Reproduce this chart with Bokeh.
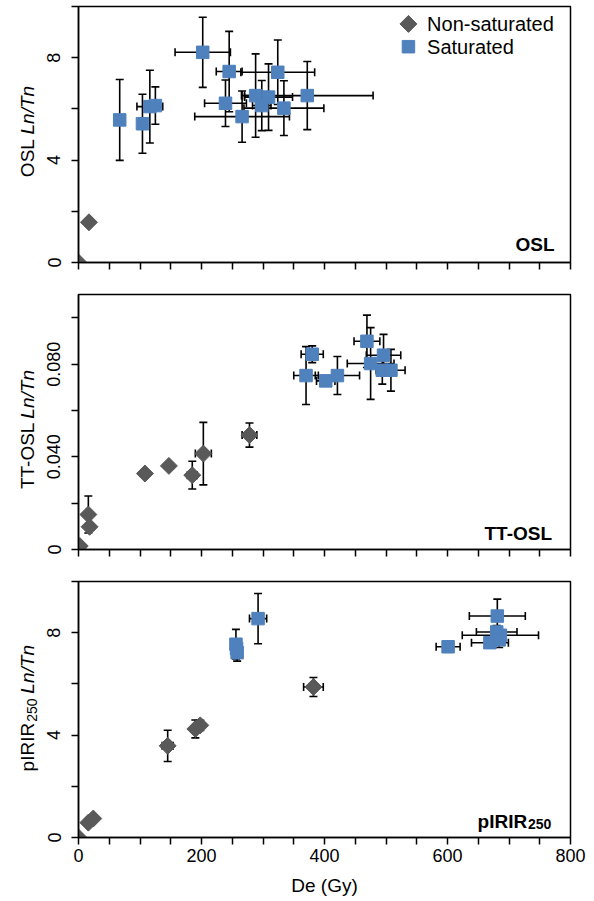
import math
from bokeh.plotting import figure
from bokeh.layouts import column, row
from bokeh.models import ColumnDataSource, Range1d, FixedTicker, Whisker, TeeHead, Label
from bokeh.embed import file_html
from bokeh.resources import INLINE

FONT = "Liberation Sans"
GRAY = "#595959"
BLUE = "#4F81BD"

# ---------------- data ----------------
# OSL panel
osl_ns_de = [0, 17]
osl_ns_ratio = [0.0, 1.57]
osl_ns_de_err = [0, 0]
osl_ns_ratio_err = [0, 0.12]

osl_s_de = [67, 104, 116, 125, 202, 245, 324, 372, 239, 266, 288, 298, 309, 334]
osl_s_ratio = [5.57, 5.42, 6.09, 6.13, 8.21, 7.46, 7.43, 6.52, 6.22, 5.70, 6.52, 6.13, 6.46, 6.03]
osl_s_de_err = [0, 0, 21, 0, 45, 21, 60, 107, 34, 77, 18, 15, 39, 65]
osl_s_ratio_err = [1.58, 1.15, 1.42, 0.73, 1.37, 1.57, 1.26, 1.33, 0.91, 1.0, 1.63, 0.98, 1.30, 1.07]

# TT-OSL panel
tt_ns_de = [2, 16, 18, 108, 147, 185, 203, 278]
tt_ns_ratio = [0.0015, 0.0151, 0.0098, 0.0328, 0.0361, 0.0321, 0.0414, 0.0494]
tt_ns_de_err = [0, 0, 0, 4, 6, 8, 13, 12]
tt_ns_ratio_err = [0, 0.008, 0.0015, 0.001, 0.0012, 0.006, 0.0135, 0.0052]

tt_s_de = [380, 370, 402, 421, 469, 475, 496, 494, 508]
tt_s_ratio = [0.0843, 0.0751, 0.0728, 0.0751, 0.0899, 0.0803, 0.0839, 0.0774, 0.0774]
tt_s_de_err = [18, 20, 15, 36, 21, 38, 28, 10, 23]
tt_s_ratio_err = [0.0036, 0.0125, 0.002, 0.0082, 0.0113, 0.0155, 0.009, 0.006, 0.009]

# pIRIR250 panel
ir_ns_de = [0, 16, 24, 145, 190, 198, 382]
ir_ns_ratio = [0.0, 0.58, 0.74, 3.58, 4.24, 4.38, 5.88]
ir_ns_de_err = [0, 0, 0, 9, 6, 6, 16]
ir_ns_ratio_err = [0, 0, 0, 0.61, 0.35, 0.2, 0.37]

ir_s_de = [256, 257, 258, 292, 601, 681, 680, 686, 669, 684]
ir_s_ratio = [7.55, 7.38, 7.22, 8.55, 7.45, 8.65, 8.03, 7.90, 7.61, 7.72]
ir_s_de_err = [0, 0, 0, 14, 19.5, 45.5, 33, 62, 30, 0]
ir_s_ratio_err = [0.58, 0, 0.33, 0.98, 0.1, 0.66, 0.25, 0.2, 0.15, 0.3]

x_ticks = list(range(0, 801, 50))
x_tick_labels = {0: "0", 200: "200", 400: "400", 600: "600", 800: "800"}

ratio_ticks = [0, 2, 4, 6, 8, 10]
ratio_tick_labels = {0: "0", 4: "4", 8: "8"}
tt_ticks = [0.0, 0.02, 0.04, 0.06, 0.08, 0.1]
tt_tick_labels = {0.0: "0", 0.04: "0.040", 0.08: "0.080"}

LABEL_W = 40  # width of the strip holding the rotated y-axis title


def make_fig(height, ymax, yticks, ylabels, top, bottom, show_x):
    p = figure(width=594 - LABEL_W, height=height, x_range=Range1d(0, 800), y_range=Range1d(0, ymax),
               output_backend="svg", toolbar_location=None,
               min_border_left=78 - LABEL_W, min_border_right=24,
               min_border_top=top, min_border_bottom=bottom)
    p.grid.visible = False
    p.outline_line_color = "black"
    p.outline_line_width = 1.5
    p.background_fill_color = "white"
    p.border_fill_color = "white"

    xa = p.xaxis[0]
    xa.ticker = FixedTicker(ticks=x_ticks, minor_ticks=[])
    xa.major_label_overrides = {t: (x_tick_labels.get(t, "") if show_x else "") for t in x_ticks}
    xa.axis_line_width = 1.5
    xa.major_tick_line_width = 1.5
    xa.major_tick_out = 7
    xa.major_tick_in = 0
    xa.minor_tick_line_color = None
    xa.major_label_text_font = FONT
    xa.major_label_text_color = "black"
    if show_x:
        xa.major_label_text_font_size = "18px"
        xa.major_label_standoff = 4
        xa.axis_label = "De (Gy)"
        xa.axis_label_text_font = FONT
        xa.axis_label_text_font_size = "19px"
        xa.axis_label_text_font_style = "normal"
        xa.axis_label_text_color = "black"
        xa.axis_label_standoff = 10
    else:
        xa.major_label_text_font_size = "1px"
        xa.major_label_standoff = 0

    ya = p.yaxis[0]
    ya.ticker = FixedTicker(ticks=yticks, minor_ticks=[])
    ya.major_label_overrides = {t: ylabels.get(t, "") for t in yticks}
    ya.major_label_orientation = "vertical"
    ya.axis_line_width = 1.5
    ya.major_tick_line_width = 1.5
    ya.major_tick_out = 7
    ya.major_tick_in = 0
    ya.minor_tick_line_color = None
    ya.major_label_text_font = FONT
    ya.major_label_text_font_size = "18px"
    ya.major_label_text_color = "black"
    ya.major_label_standoff = 11
    return p


def make_label_strip(height, ymax, top, bottom):
    s = figure(width=LABEL_W, height=height, x_range=Range1d(0, LABEL_W), y_range=Range1d(0, ymax),
               output_backend="svg", toolbar_location=None, x_axis_type=None, y_axis_type=None,
               min_border_left=0, min_border_right=0, min_border_top=top, min_border_bottom=bottom)
    s.grid.visible = False
    s.outline_line_color = None
    s.background_fill_color = "white"
    s.border_fill_color = "white"
    return s


def add_series(p, de, ratio, de_err, ratio_err, kind):
    yi = [i for i in range(len(de)) if ratio_err[i] > 0]
    if yi:
        src = ColumnDataSource(dict(b=[de[i] for i in yi],
                                    lo=[ratio[i] - ratio_err[i] for i in yi],
                                    hi=[ratio[i] + ratio_err[i] for i in yi]))
        p.add_layout(Whisker(source=src, base="b", lower="lo", upper="hi", dimension="height",
                             line_color="black", line_width=1.6,
                             upper_head=TeeHead(size=8, line_color="black", line_width=1.6),
                             lower_head=TeeHead(size=8, line_color="black", line_width=1.6)))
    xi = [i for i in range(len(de)) if de_err[i] > 0]
    if xi:
        src = ColumnDataSource(dict(b=[ratio[i] for i in xi],
                                    lo=[de[i] - de_err[i] for i in xi],
                                    hi=[de[i] + de_err[i] for i in xi]))
        p.add_layout(Whisker(source=src, base="b", lower="lo", upper="hi", dimension="width",
                             line_color="black", line_width=1.6,
                             upper_head=TeeHead(size=8, line_color="black", line_width=1.6),
                             lower_head=TeeHead(size=8, line_color="black", line_width=1.6)))
    if kind == "ns":
        p.scatter(de, ratio, marker="square", angle=math.pi / 4, size=12,
                  fill_color=GRAY, line_color=GRAY)
    else:
        p.scatter(de, ratio, marker="square", size=12.5, fill_color=BLUE, line_color=BLUE)


def lab(p, x, y, text, size="19px", style="normal", angle=0.0, align="left", baseline="alphabetic"):
    p.add_layout(Label(x=x, y=y, text=text, text_font=FONT, text_font_size=size,
                       text_font_style=style, angle=angle, text_align=align,
                       text_baseline=baseline, text_color="black"))


V = math.pi / 2
YL_X = 27  # centre line of rotated y titles inside the strip (px)

# ---- panel 1: OSL
p1 = make_fig(278, 10, ratio_ticks, ratio_tick_labels, 6, 16, False)
s1 = make_label_strip(278, 10, 6, 16)
add_series(p1, osl_ns_de, osl_ns_ratio, osl_ns_de_err, osl_ns_ratio_err, "ns")
add_series(p1, osl_s_de, osl_s_ratio, osl_s_de_err, osl_s_ratio_err, "s")
lab(s1, YL_X, 4.82, "OSL", angle=V, align="right", baseline="middle")
lab(s1, YL_X, 5.0, "Ln/Tn", style="italic", angle=V, align="left", baseline="middle")
lab(p1, 774, 0.72, "OSL", style="bold", align="right")
# legend
p1.scatter([536.5], [9.32], marker="square", angle=math.pi / 4, size=12, fill_color=GRAY, line_color=GRAY)
p1.scatter([536.5], [8.43], marker="square", size=12.5, fill_color=BLUE, line_color=BLUE)
lab(p1, 566.8, 9.32, "Non-saturated", size="20px", baseline="middle")
lab(p1, 566.8, 8.43, "Saturated", size="20px", baseline="middle")

# ---- panel 2: TT-OSL
p2 = make_fig(287, 0.1101, tt_ticks, tt_tick_labels, 16, 16, False)
s2 = make_label_strip(287, 0.1101, 16, 16)
add_series(p2, tt_ns_de, tt_ns_ratio, tt_ns_de_err, tt_ns_ratio_err, "ns")
add_series(p2, tt_s_de, tt_s_ratio, tt_s_de_err, tt_s_ratio_err, "s")
lab(s2, YL_X, 0.0548, "TT-OSL", angle=V, align="right", baseline="middle")
lab(s2, YL_X, 0.0565, "Ln/Tn", style="italic", angle=V, align="left", baseline="middle")
lab(p2, 770, 0.0069, "TT-OSL", style="bold", align="right")

# ---- panel 3: pIRIR250
p3 = make_fig(336, 10, ratio_ticks, ratio_tick_labels, 16, 64, True)
s3 = make_label_strip(336, 10, 16, 64)
add_series(p3, ir_ns_de, ir_ns_ratio, ir_ns_de_err, ir_ns_ratio_err, "ns")
add_series(p3, ir_s_de, ir_s_ratio, ir_s_de_err, ir_s_ratio_err, "s")
lab(s3, YL_X, 4.48, "pIRIR", angle=V, align="right", baseline="middle")
lab(s3, YL_X + 4, 4.52, "250", size="14px", angle=V, align="left", baseline="middle")
lab(s3, YL_X, 5.62, "Ln/Tn", style="italic", angle=V, align="left", baseline="middle")
lab(p3, 729.6, 0.61, "pIRIR", style="bold", align="right")
lab(p3, 730.8, 0.52, "250", size="14px", style="bold", align="left")

layout = column(row(s1, p1), row(s2, p2), row(s3, p3))
open("out.html", "w").write(file_html(layout, INLINE))
